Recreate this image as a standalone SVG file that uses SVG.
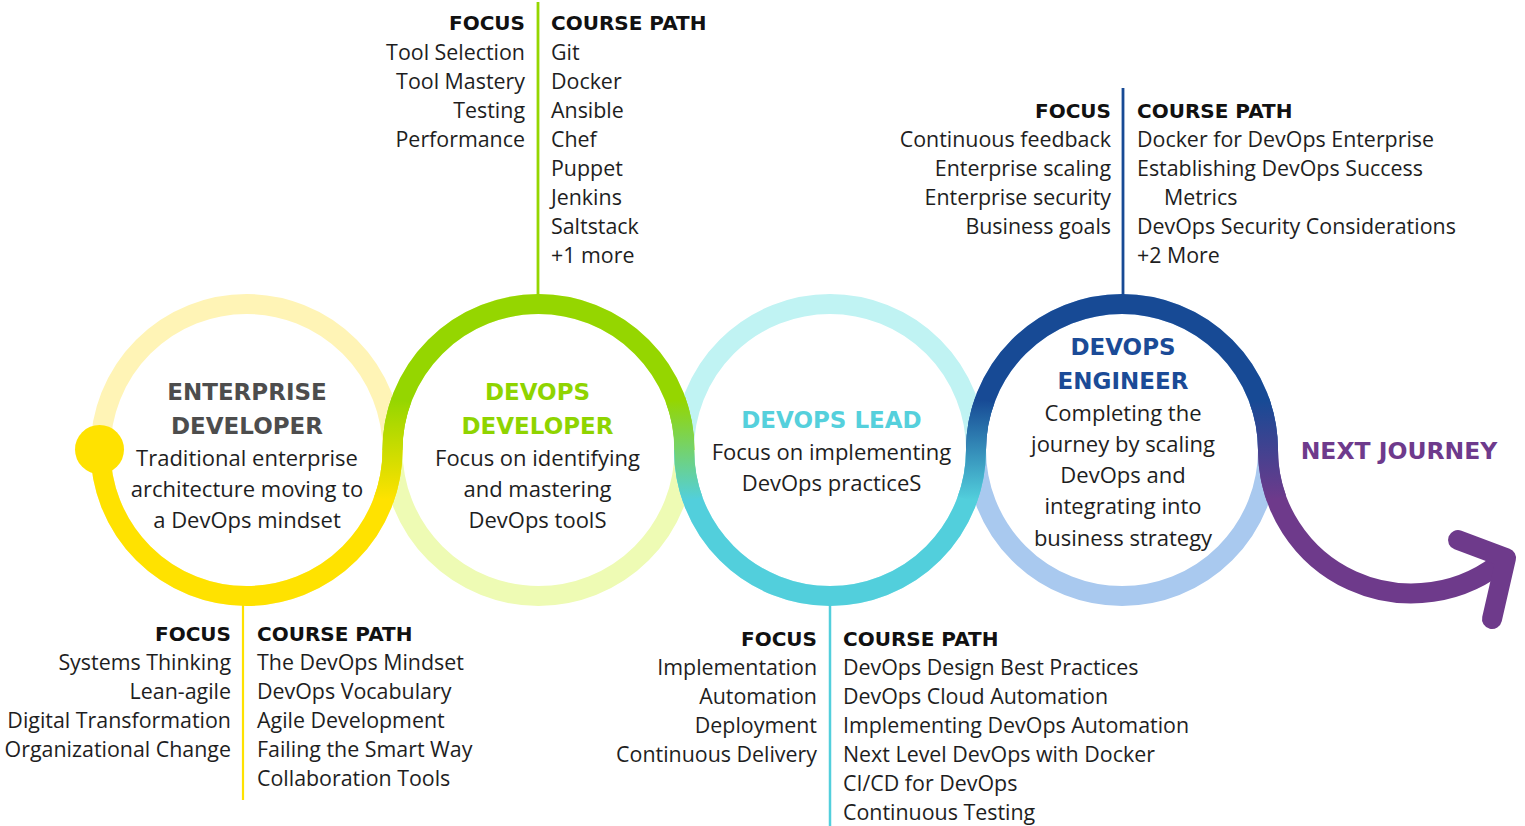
<svg xmlns="http://www.w3.org/2000/svg" width="1525" height="826" viewBox="0 0 1525 826">
<defs>
<style>
.ring{fill:none;stroke-width:20}
.band{fill:none;stroke-width:20;stroke-linecap:butt}
.h{font-family:"DejaVu Sans","Liberation Sans",sans-serif;font-weight:bold;font-size:20px;fill:#111}
.b{font-family:"Open Sans","Liberation Sans",sans-serif;font-size:21.4px;fill:#1e1e1e}
.ch{font-family:"DejaVu Sans","Liberation Sans",sans-serif;font-weight:bold;font-size:23px;text-anchor:middle}
.cb{font-family:"Open Sans","Liberation Sans",sans-serif;font-size:22px;fill:#1e1e1e;text-anchor:middle}
.e{text-anchor:end}
.conn{fill:none}
</style>
<linearGradient id="g12" gradientUnits="userSpaceOnUse" x1="0" y1="500" x2="0" y2="400"><stop offset="0" stop-color="#FFE200"/><stop offset="1" stop-color="#95D600"/></linearGradient>
<linearGradient id="g23" gradientUnits="userSpaceOnUse" x1="0" y1="400" x2="0" y2="500"><stop offset="0" stop-color="#95D600"/><stop offset="1" stop-color="#52CFDC"/></linearGradient>
<linearGradient id="g34" gradientUnits="userSpaceOnUse" x1="0" y1="500" x2="0" y2="400"><stop offset="0" stop-color="#52CFDC"/><stop offset="1" stop-color="#174A95"/></linearGradient>
<linearGradient id="g45" gradientUnits="userSpaceOnUse" x1="0" y1="400" x2="0" y2="500"><stop offset="0" stop-color="#174A95"/><stop offset="1" stop-color="#6E3A8B"/></linearGradient>
</defs>
<rect width="1525" height="826" fill="#fff"/>

<!-- light rings -->
<circle class="ring" cx="246.5" cy="450" r="146" stroke="#FFF4B6"/>
<circle class="ring" cx="538.5" cy="450" r="146" stroke="#EEFBB4"/>
<circle class="ring" cx="830" cy="450" r="146" stroke="#C0F3F3"/>
<circle class="ring" cx="1122" cy="450" r="146" stroke="#A9C9EF"/>

<!-- connectors -->
<g id="connectors" class="conn">
<line x1="243" y1="604" x2="243" y2="800" stroke="#FFE200" stroke-width="2.2"/>
<line x1="538" y1="2" x2="538" y2="296" stroke="#95D600" stroke-width="2.8"/>
<line x1="830" y1="604" x2="830" y2="826" stroke="#52CFDC" stroke-width="2.5"/>
<line x1="1123" y1="88" x2="1123" y2="296" stroke="#174A95" stroke-width="2.8"/>
</g>

<!-- bright journey path -->
<g id="journey">
<path class="band" stroke="#FFE200" d="M100.5 450 A146 146 0 0 0 392.5 450"/>
<path class="band" stroke="#95D600" d="M392.5 450 A146 146 0 0 1 684.5 450"/>
<path class="band" stroke="#52CFDC" d="M684 450 A146 146 0 0 0 976 450"/>
<path class="band" stroke="#174A95" d="M976 450 A146 146 0 0 1 1268 450"/>
<path class="band" stroke="#6E3A8B" d="M1268 450 A143.5 143.5 0 0 0 1506 558"/>
<path class="band" stroke="url(#g12)" d="M383.7 499.9 A146 146 0 0 0 392.5 450 A146 146 0 0 1 401.3 400.1"/>
<path class="band" stroke="url(#g23)" d="M675.7 400.1 A146 146 0 0 1 684.3 450 A146 146 0 0 0 692.8 499.9"/>
<path class="band" stroke="url(#g34)" d="M967.2 499.9 A146 146 0 0 0 976 450 A146 146 0 0 1 984.8 400.1"/>
<path class="band" stroke="url(#g45)" d="M1259.2 400.1 A146 146 0 0 1 1268 450 A143.5 143.5 0 0 0 1276.6 498.8"/>
<circle cx="99.5" cy="449.5" r="24.5" fill="#FFE200"/>
<path d="M1458 540 L1506 558 L1492 619" fill="none" stroke="#6E3A8B" stroke-width="20" stroke-linecap="round" stroke-linejoin="round"/>
</g>

<!-- node 1 -->
<g id="enterprise-developer">
<text class="ch" x="247" y="400" fill="#4D4D4D">ENTERPRISE</text>
<text class="ch" x="247" y="434" fill="#4D4D4D">DEVELOPER</text>
<text class="cb" x="247" y="466">Traditional enterprise</text>
<text class="cb" x="247" y="497">architecture moving to</text>
<text class="cb" x="247" y="528">a DevOps mindset</text>
</g>
<g id="enterprise-developer-info">
<text class="h e" x="231" y="641">FOCUS</text>
<text class="b e" x="231" y="670">Systems Thinking</text>
<text class="b e" x="231" y="699">Lean-agile</text>
<text class="b e" x="231" y="728">Digital Transformation</text>
<text class="b e" x="231" y="757">Organizational Change</text>
<text class="h" x="257" y="641">COURSE PATH</text>
<text class="b" x="257" y="670">The DevOps Mindset</text>
<text class="b" x="257" y="699">DevOps Vocabulary</text>
<text class="b" x="257" y="728">Agile Development</text>
<text class="b" x="257" y="757">Failing the Smart Way</text>
<text class="b" x="257" y="786">Collaboration Tools</text>
</g>

<!-- node 2 -->
<g id="devops-developer">
<text class="ch" x="537.5" y="400" fill="#8FD400">DEVOPS</text>
<text class="ch" x="537.5" y="434" fill="#8FD400">DEVELOPER</text>
<text class="cb" x="537.5" y="466">Focus on identifying</text>
<text class="cb" x="537.5" y="497">and mastering</text>
<text class="cb" x="537.5" y="528">DevOps toolS</text>
</g>
<g id="devops-developer-info">
<text class="h e" x="525" y="30">FOCUS</text>
<text class="b e" x="525" y="59.5">Tool Selection</text>
<text class="b e" x="525" y="88.5">Tool Mastery</text>
<text class="b e" x="525" y="117.5">Testing</text>
<text class="b e" x="525" y="146.5">Performance</text>
<text class="h" x="551" y="30">COURSE PATH</text>
<text class="b" x="551" y="59.5">Git</text>
<text class="b" x="551" y="88.5">Docker</text>
<text class="b" x="551" y="117.5">Ansible</text>
<text class="b" x="551" y="146.5">Chef</text>
<text class="b" x="551" y="175.5">Puppet</text>
<text class="b" x="551" y="204.5">Jenkins</text>
<text class="b" x="551" y="233.5">Saltstack</text>
<text class="b" x="551" y="262.5">+1 more</text>
</g>

<!-- node 3 -->
<g id="devops-lead">
<text class="ch" x="831.5" y="428" fill="#55D0DC">DEVOPS LEAD</text>
<text class="cb" x="831.5" y="460">Focus on implementing</text>
<text class="cb" x="831.5" y="491">DevOps practiceS</text>
</g>
<g id="devops-lead-info">
<text class="h e" x="817" y="646">FOCUS</text>
<text class="b e" x="817" y="675">Implementation</text>
<text class="b e" x="817" y="704">Automation</text>
<text class="b e" x="817" y="733">Deployment</text>
<text class="b e" x="817" y="762">Continuous Delivery</text>
<text class="h" x="843" y="646">COURSE PATH</text>
<text class="b" x="843" y="675">DevOps Design Best Practices</text>
<text class="b" x="843" y="704">DevOps Cloud Automation</text>
<text class="b" x="843" y="733">Implementing DevOps Automation</text>
<text class="b" x="843" y="762">Next Level DevOps with Docker</text>
<text class="b" x="843" y="791">CI/CD for DevOps</text>
<text class="b" x="843" y="820">Continuous Testing</text>
</g>

<!-- node 4 -->
<g id="devops-engineer">
<text class="ch" x="1123" y="355" fill="#1B4B97">DEVOPS</text>
<text class="ch" x="1123" y="389" fill="#1B4B97">ENGINEER</text>
<text class="cb" x="1123" y="421">Completing the</text>
<text class="cb" x="1123" y="452">journey by scaling</text>
<text class="cb" x="1123" y="483">DevOps and</text>
<text class="cb" x="1123" y="514">integrating into</text>
<text class="cb" x="1123" y="546">business strategy</text>
</g>
<g id="devops-engineer-info">
<text class="h e" x="1111" y="118">FOCUS</text>
<text class="b e" x="1111" y="147">Continuous feedback</text>
<text class="b e" x="1111" y="176">Enterprise scaling</text>
<text class="b e" x="1111" y="205">Enterprise security</text>
<text class="b e" x="1111" y="234">Business goals</text>
<text class="h" x="1137" y="118">COURSE PATH</text>
<text class="b" x="1137" y="147">Docker for DevOps Enterprise</text>
<text class="b" x="1137" y="176">Establishing DevOps Success</text>
<text class="b" x="1164" y="205">Metrics</text>
<text class="b" x="1137" y="234">DevOps Security Considerations</text>
<text class="b" x="1137" y="263">+2 More</text>
</g>

<!-- node 5 -->
<g id="next-journey">
<text class="ch" x="1399" y="459" fill="#6E3A8C" style="font-size:23.5px">NEXT JOURNEY</text>
</g>
</svg>
